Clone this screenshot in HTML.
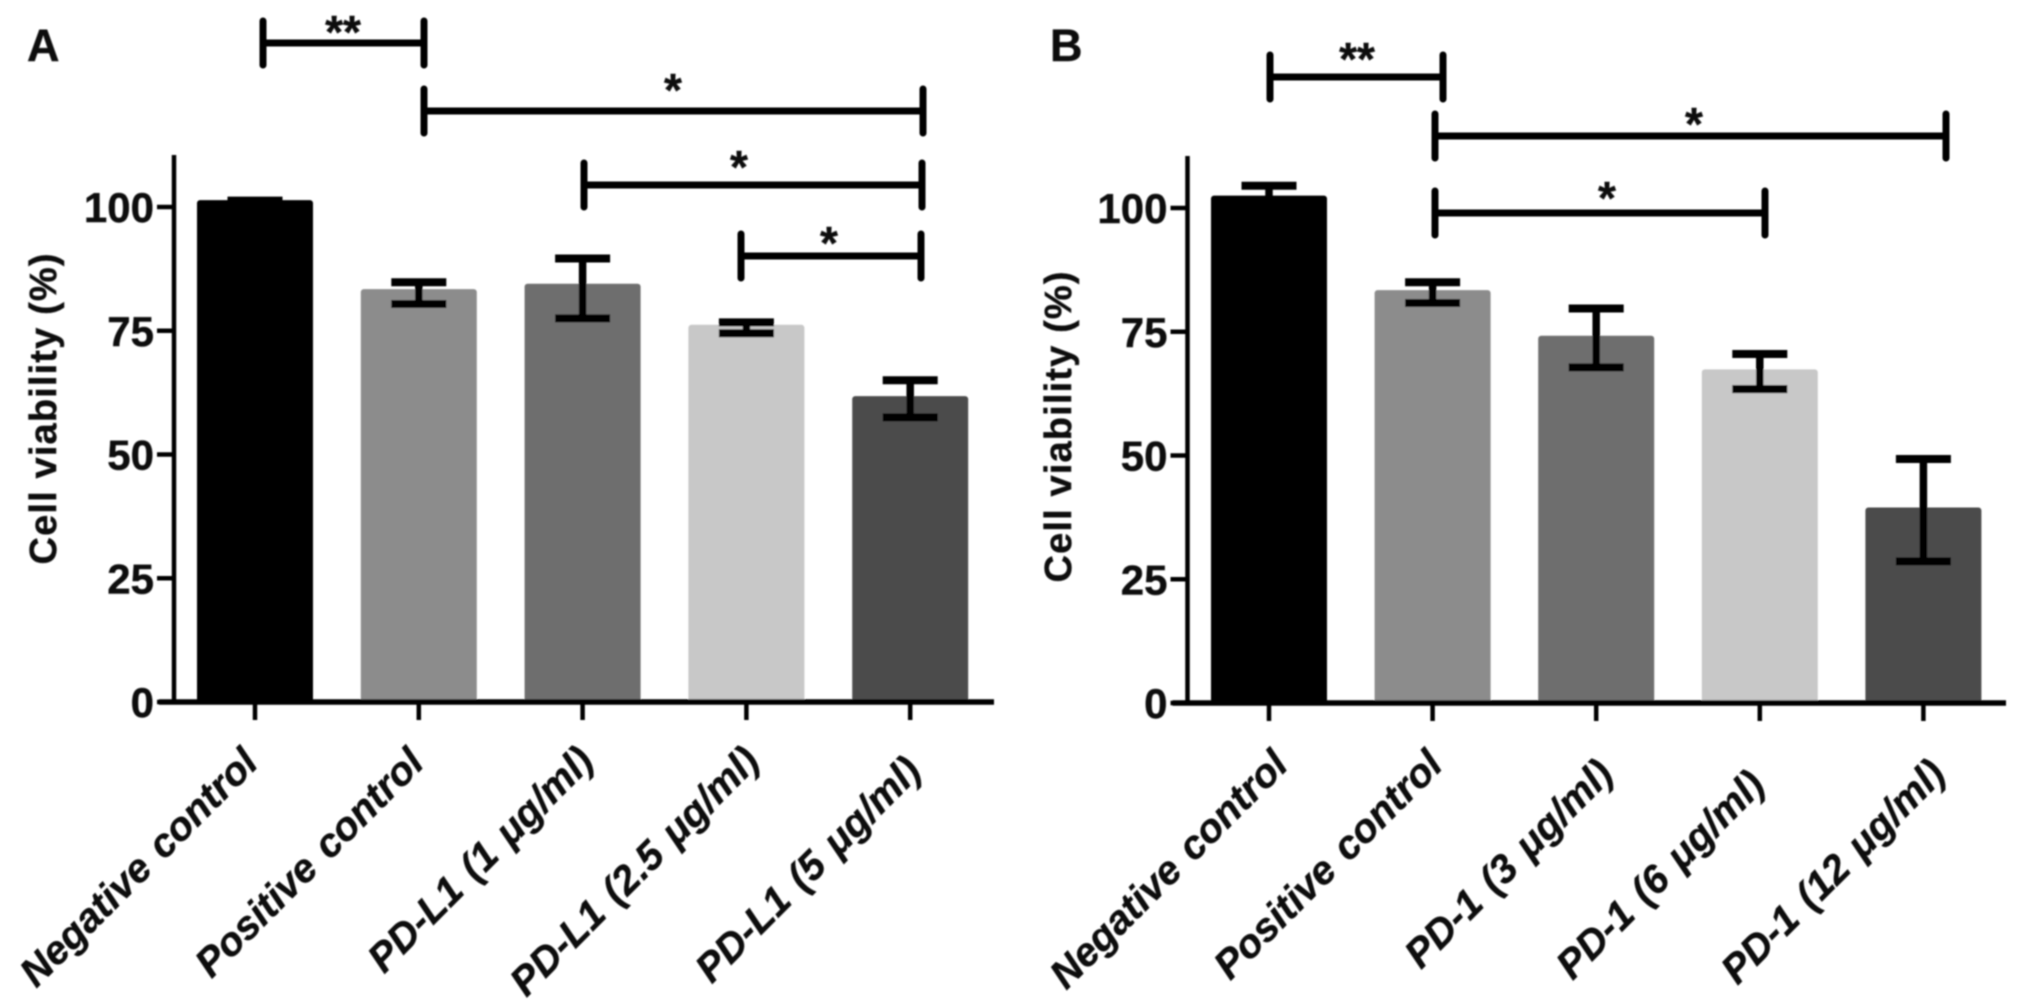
<!DOCTYPE html>
<html lang="en">
<head>
<meta charset="utf-8">
<title>Cell viability charts</title>
<style>
html,body{margin:0;padding:0;background:#fff;width:2031px;height:1005px;overflow:hidden}
svg{display:block}
text{font-family:"Liberation Sans",sans-serif;font-weight:bold;fill:#111;stroke:#111;stroke-width:.4}
</style>
</head>
<body>
<svg id="figure" xmlns="http://www.w3.org/2000/svg" width="2031" height="1005" viewBox="0 0 2031 1005">
  <defs><filter id="soft" x="-2%" y="-2%" width="104%" height="104%"><feGaussianBlur stdDeviation="0.9"/></filter></defs>
  <rect width="2031" height="1005" fill="#fff"/>
  <g id="root" filter="url(#soft)">
    <text x="27" y="61" font-size="45">A</text>
    <text x="1050" y="61" font-size="45">B</text>
    <text transform="translate(56,409) rotate(-90)" text-anchor="middle" font-size="38" textLength="311" lengthAdjust="spacing">Cell viability (%)</text>
    <text transform="translate(1071,427) rotate(-90)" text-anchor="middle" font-size="38" textLength="311" lengthAdjust="spacing">Cell viability (%)</text>
    <g id="panelA"></g>
    <g id="panelB"></g>
  </g>
</svg>
<script>
// Panel A data
const categoriesA = ["Negative control", "Positive control", "PD-L1 (1 μg/ml)", "PD-L1 (2.5 μg/ml)", "PD-L1 (5 μg/ml)"];
const valuesA = [101.4, 83.4, 84.5, 76.2, 61.8];
const errorUpperA = [101.3, 84.8, 89.6, 76.7, 65];
const errorLowerA = [100.5, 80.4, 77.5, 74.5, 57.5];
// Panel B data
const categoriesB = ["Negative control", "Positive control", "PD-1 (3 μg/ml)", "PD-1 (6 μg/ml)", "PD-1 (12 μg/ml)"];
const valuesB = [102.5, 83.4, 74.2, 67.4, 39.5];
const errorUpperB = [104.5, 85, 79.7, 70.5, 49.3];
const errorLowerB = [100, 80.8, 67.8, 63.4, 28.6];
// Shared
const tickLabels = [0, 25, 50, 75, 100];
const barColors = ["#060606", "#8c8c8c", "#6e6e6e", "#c8c8c8", "#4c4c4c"];

const NS = "http://www.w3.org/2000/svg";
function mk(parent, tag, attrs) {
  const el = document.createElementNS(NS, tag);
  for (const k in attrs) el.setAttribute(k, attrs[k]);
  parent.appendChild(el);
  return el;
}
function drawPanel(cfg) {
  const g = document.getElementById(cfg.id);
  const y = v => cfg.y0 - v * cfg.unit;
  const x = i => cfg.x0 + i * cfg.step;
  const bw = 116, capW = 55, ink = "#060606";

  cfg.values.forEach((v, i) => {
    const bar = mk(g, "rect", {x: x(i) - bw / 2, y: y(v), width: bw, height: y(0) - y(v), rx: 3, fill: barColors[i]});
    
    
    const stem = mk(g, "line", {x1: x(i), x2: x(i), y1: y(cfg.upper[i]), y2: y(cfg.lower[i]), stroke: ink, "stroke-width": 7.5});
    
    
    [cfg.upper[i], cfg.lower[i]].forEach(e => {
      const cap = mk(g, "line", {x1: x(i) - capW / 2, x2: x(i) + capW / 2, y1: y(e), y2: y(e), stroke: ink, "stroke-width": 8});
      
      
    });
  });

  const yAxis = mk(g, "line", {x1: cfg.axisX, x2: cfg.axisX, y1: cfg.y0 - 547, y2: y(0) + 2, stroke: ink, "stroke-width": 4.5});
  
  
  const xAxis = mk(g, "line", {x1: cfg.axisX - 15, x2: cfg.axisEnd, y1: y(0), y2: y(0), stroke: ink, "stroke-width": 5.5});
  
  

  tickLabels.forEach(t => {
    const tk = mk(g, "line", {x1: cfg.axisX - 17, x2: cfg.axisX, y1: y(t), y2: y(t), stroke: ink, "stroke-width": 4.5});
    
    
    const lb = mk(g, "text", {x: cfg.axisX - 20, y: y(t) + 15, "text-anchor": "end", "font-size": 42});
    
    
    lb.textContent = t;
  });

  cfg.categories.forEach((c, i) => {
    const tk = mk(g, "line", {x1: x(i), x2: x(i), y1: y(0), y2: y(0) + 18, stroke: ink, "stroke-width": 4.5});
    
    
    const lb = mk(g, "text", {
      transform: `translate(${x(i) + cfg.labelDx[i]},${cfg.labelY[i]}) rotate(-45)`,
      "text-anchor": "end", "font-size": 40, "font-style": "italic", "word-spacing": 3
    });
    
    
    lb.textContent = c;
  });

  cfg.brackets.forEach(b => {
    const d = `M${b[0]} ${b[2]}H${b[1]}M${b[0]} ${b[2] - 22}V${b[2] + 22}M${b[1]} ${b[2] - 22}V${b[2] + 22}`;
    const p = mk(g, "path", {d: d, fill: "none", stroke: ink, "stroke-width": 7, "stroke-linecap": "round"});
    
    
    const s = mk(g, "text", {x: b[3], y: b[4], "text-anchor": "middle", "font-size": 46});
    
    
    s.textContent = b[5];
  });
}

drawPanel({
  id: "panelA", categories: categoriesA, values: valuesA, upper: errorUpperA, lower: errorLowerA,
  y0: 702, unit: 4.95, x0: 255, step: 163.8, axisX: 174, axisEnd: 994,
  labelDx: [5, 7, 13, 15, 13], labelY: [765, 765, 763, 763, 773],
  brackets: [[263, 424, 43, 343, 48, "**"], [424, 923, 111, 673, 106, "*"], [584, 922, 185, 739, 183, "*"], [741, 921, 256, 829, 259, "*"]]
});
drawPanel({
  id: "panelB", categories: categoriesB, values: valuesB, upper: errorUpperB, lower: errorLowerB,
  y0: 703, unit: 4.95, x0: 1269, step: 163.6, axisX: 1187.5, axisEnd: 2006,
  labelDx: [21, 12, 19, 7, 24], labelY: [767, 767, 776, 787, 776],
  brackets: [[1270, 1443, 77, 1357, 75, "**"], [1435, 1946, 136, 1694, 140, "*"], [1435, 1765, 213, 1607, 214, "*"]]
});
</script>
</body>
</html>
